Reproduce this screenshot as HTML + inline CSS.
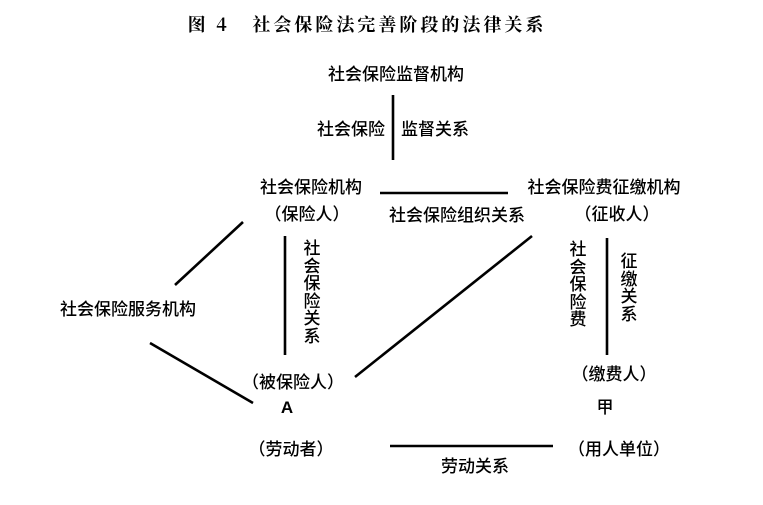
<!DOCTYPE html>
<html><head><meta charset="utf-8"><style>
body{margin:0;width:763px;height:505px;background:#fff;position:relative;overflow:hidden;font-family:"Liberation Sans","Noto Sans CJK SC",sans-serif;color:#000}
.t{position:absolute;font-size:17px;line-height:18px;white-space:nowrap;transform:translate(-50%,-50%);font-weight:500}
.v{position:absolute;font-size:17px;line-height:17.5px;width:18px;text-align:center;transform:translateX(-50%);font-weight:500}
svg{position:absolute;left:0;top:0}
</style></head><body>
<svg width="763" height="505" stroke="#000" stroke-width="2.6" fill="none">
<line x1="393" y1="95" x2="393" y2="160"/>
<line x1="380" y1="193" x2="508" y2="193"/>
<line x1="243" y1="222" x2="175" y2="285"/>
<line x1="150" y1="343" x2="253" y2="403"/>
<line x1="285" y1="236" x2="285" y2="355"/>
<line x1="355" y1="377" x2="532" y2="236"/>
<line x1="607" y1="238" x2="607" y2="355"/>
<line x1="390" y1="446" x2="553" y2="446"/>
</svg>
<div class="t" style="left:367px;top:24px;font-size:18px;letter-spacing:3px;font-weight:bold;font-family:'Noto Serif CJK SC','Liberation Serif',serif">图 4&nbsp;&nbsp;&nbsp;社会保险法完善阶段的法律关系</div>
<div class="t" style="left:396px;top:75px">社会保险监督机构</div>
<div class="t" style="left:351px;top:130px">社会保险</div>
<div class="t" style="left:435px;top:130px">监督关系</div>
<div class="t" style="left:311px;top:188px">社会保险机构</div>
<div class="t" style="left:604px;top:188px">社会保险费征缴机构</div>
<div class="t" style="left:307px;top:215px">（保险人）</div>
<div class="t" style="left:457px;top:216px">社会保险组织关系</div>
<div class="t" style="left:617px;top:215px">（征收人）</div>
<div class="t" style="left:128px;top:310px">社会保险服务机构</div>
<div class="v" style="left:312px;top:240px">社<br>会<br>保<br>险<br>关<br>系</div>
<div class="v" style="left:578px;top:241px">社<br>会<br>保<br>险<br>费</div>
<div class="v" style="left:629px;top:253px">征<br>缴<br>关<br>系</div>
<div class="t" style="left:293px;top:383px">（被保险人）</div>
<div class="t" style="left:287px;top:408px;font-weight:bold">A</div>
<div class="t" style="left:614px;top:375px">（缴费人）</div>
<div class="t" style="left:605px;top:408px">甲</div>
<div class="t" style="left:291px;top:450px">（劳动者）</div>
<div class="t" style="left:619px;top:450px">（用人单位）</div>
<div class="t" style="left:475px;top:467px">劳动关系</div>
</body></html>
